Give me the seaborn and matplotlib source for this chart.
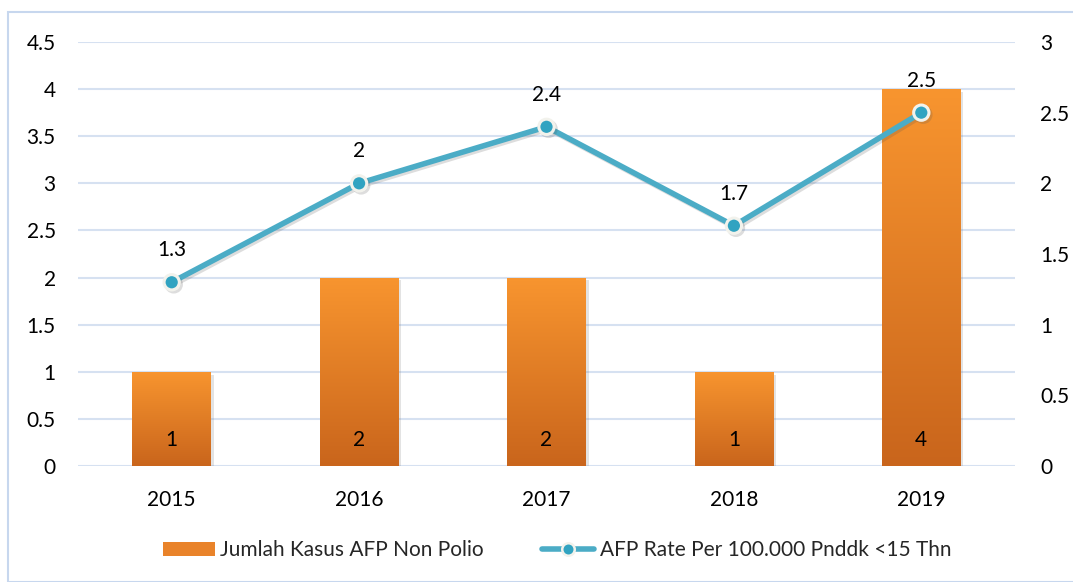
import numpy as np
import matplotlib
matplotlib.use("Agg")
import matplotlib.pyplot as plt
import matplotlib.patheffects as pe
from matplotlib.colors import LinearSegmentedColormap
from matplotlib.patches import Rectangle, Patch
from matplotlib.lines import Line2D
import seaborn as sns
import pandas as pd

# Data
years = ["2015", "2016", "2017", "2018", "2019"]
kasus_afp = [1, 2, 2, 1, 4]
afp_rate = [1.3, 2.0, 2.4, 1.7, 2.5]
left_ticks = [0, 0.5, 1, 1.5, 2, 2.5, 3, 3.5, 4, 4.5]
right_ticks = [0, 0.5, 1, 1.5, 2, 2.5, 3]
bar_label = "Jumlah Kasus AFP Non Polio"
line_label = "AFP Rate Per 100.000 Pnddk <15 Thn"

sns.set_theme(style="white")
plt.rcParams["font.family"] = ["Lato", "DejaVu Sans"]

FS = 15
ORANGE_TOP = "#F8952F"
ORANGE_BOT = "#C9651C"
TEAL = "#4BACC6"
GRID = "#D6E1F1"

fig = plt.figure(figsize=(10.73, 5.82), dpi=100)
ax = fig.add_axes([78 / 1073, 1 - 466 / 582, (1015 - 78) / 1073, (466 - 42) / 582])

df = pd.DataFrame({"year": years, "kasus": kasus_afp, "rate": afp_rate})

sns.barplot(data=df, x="year", y="kasus", ax=ax, color=ORANGE_TOP, width=0.42,
            saturation=1, zorder=3)

# Vertical gradient fill + soft shadow on every bar
cmap = LinearSegmentedColormap.from_list("bar_grad", [ORANGE_BOT, ORANGE_TOP])
grad = np.linspace(0, 1, 256).reshape(-1, 1)
for p in ax.patches:
    x0, y0 = p.get_x(), p.get_y()
    w, h = p.get_width(), p.get_height()
    p.set_path_effects([pe.SimplePatchShadow(offset=(2, -2), alpha=0.2, shadow_rgbFace="#777777"),
                        pe.Normal()])
    p.set_edgecolor("none")
    im = ax.imshow(grad, extent=(x0, x0 + w, y0, y0 + h), origin="lower", cmap=cmap,
                   aspect="auto", zorder=3.5, interpolation="bicubic")
    im.set_clip_path(p)

ax.set_xlim(-0.5, len(years) - 0.5)
ax.set_ylim(0, 4.5)
ax.set_yticks(left_ticks)
ax.set_yticklabels([f"{t:g}" for t in left_ticks])
ax.grid(axis="y", color=GRID, linewidth=1.5, zorder=0)
ax.grid(axis="x", visible=False)
ax.set_axisbelow(True)
ax.set_xlabel("")
ax.set_ylabel("")
for s in ax.spines.values():
    s.set_visible(False)
ax.tick_params(axis="y", length=0, pad=16, labelsize=FS, labelcolor="#000000")
ax.tick_params(axis="x", length=0, pad=17, labelsize=FS, labelcolor="#000000")

# Value labels near bar bases
for i, v in enumerate(kasus_afp):
    ax.annotate(f"{v:g}", (i, 0), xytext=(0, 19), textcoords="offset points",
                ha="center", va="center", fontsize=FS, color="#000000", zorder=6)

# Secondary axis: rate line
ax2 = ax.twinx()
sns.pointplot(data=df, x="year", y="rate", ax=ax2, color=TEAL, markers="o",
              linestyles="-", errorbar=None)
for ln in ax2.lines:
    ln.set_linewidth(4)
    ln.set_markersize(11)
    ln.set_markerfacecolor("#31A3C1")
    ln.set_markeredgecolor("#F2F2EC")
    ln.set_markeredgewidth(2.2)
    ln.set_zorder(5)
    ln.set_path_effects([pe.SimpleLineShadow(offset=(1.5, -1.5), alpha=0.2, shadow_color="#555555"),
                         pe.Normal()])
for c in ax2.collections:
    c.set_visible(False)
ax2.set_xlim(-0.5, len(years) - 0.5)
ax2.set_ylim(0, 3)
ax2.set_yticks(right_ticks)
ax2.set_yticklabels([f"{t:g}" for t in right_ticks])
ax2.grid(False)
ax2.set_xlabel("")
ax2.set_ylabel("")
for s in ax2.spines.values():
    s.set_visible(False)
ax2.yaxis.tick_right()
ax2.tick_params(axis="y", which="both", left=False, labelleft=False, right=False,
                labelright=True, length=0, pad=18, labelsize=FS, labelcolor="#000000")

for i, v in enumerate(afp_rate):
    ax2.annotate(f"{v:g}", (i, v), xytext=(0, 23), textcoords="offset points",
                 ha="center", va="center", fontsize=FS, color="#000000", zorder=6)

# Legend
handles = [
    Patch(facecolor="#E9832A", edgecolor="none", label=bar_label),
    Line2D([0], [0], color=TEAL, linewidth=4, marker="o", markersize=9,
           markerfacecolor="#31A3C1", markeredgecolor="#F2F2EC", markeredgewidth=1.8,
           label=line_label),
]
fig.legend(handles=handles, loc="center", bbox_to_anchor=(557 / 1073, 1 - 550 / 582),
           ncol=2, frameon=False, fontsize=FS, handlelength=2.5, handleheight=0.65,
           handletextpad=0.25, columnspacing=2.8)

# Chart frame
fig.patches.append(Rectangle((8 / 1073, 0), 1.2, 1 - 12 / 582, transform=fig.transFigure,
                             fill=False, edgecolor="#C7D7EE", linewidth=1.5, zorder=0))

# Right-hand tick labels start flush at a common left edge
fig.canvas.draw()
for tick in ax2.yaxis.get_major_ticks():
    tick.label2.set_horizontalalignment("left")

fig.savefig("out.png", dpi=100)
